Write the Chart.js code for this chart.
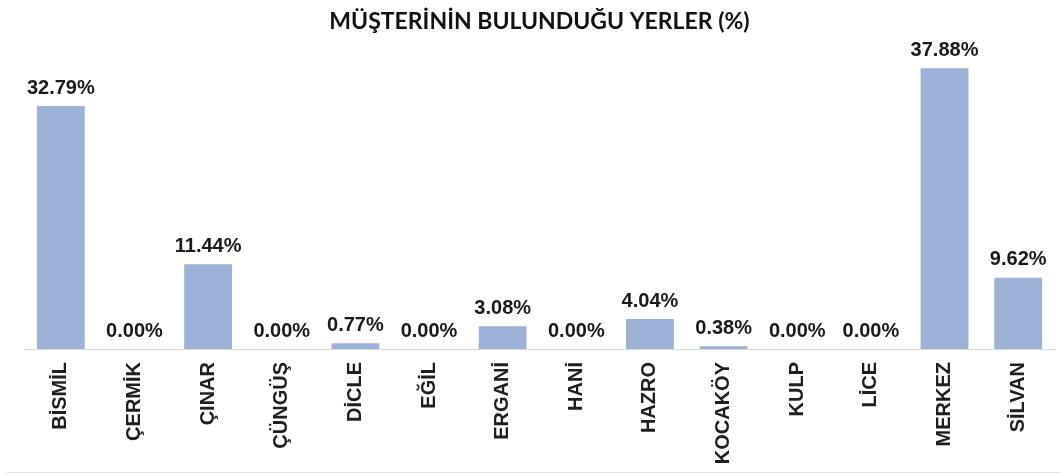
<!DOCTYPE html>
<html>
<head>
<meta charset="utf-8">
<script src="https://cdn.jsdelivr.net/npm/chart.js@4"></script>
<style>
  html, body { margin: 0; padding: 0; background: #fff; }
  #wrap { width: 1061px; height: 474px; }
</style>
</head>
<body>
<div id="wrap"><canvas id="canvas" width="1061" height="474"></canvas></div>
<script>
const districts = ['BİSMİL', 'ÇERMİK', 'ÇINAR', 'ÇÜNGÜŞ', 'DİCLE', 'EĞİL', 'ERGANİ', 'HANİ', 'HAZRO', 'KOCAKÖY', 'KULP', 'LİCE', 'MERKEZ', 'SİLVAN'];
const shares = [32.79, 0.00, 11.44, 0.00, 0.77, 0.00, 3.08, 0.00, 4.04, 0.38, 0.00, 0.00, 37.88, 9.62];

// value labels above each bar
const barLabels = {
    id: 'barLabels',
    afterDatasetsDraw(chart) {
        const c = chart.ctx;
        const meta = chart.getDatasetMeta(0);
        c.save();
        c.font = 'bold 20px "Liberation Sans", Arial, sans-serif';
        c.fillStyle = '#1a1a1a';
        c.textAlign = 'center';
        c.textBaseline = 'bottom';
        meta.data.forEach((bar, i) => {
            c.fillText(shares[i].toFixed(2) + '%', bar.x, bar.y - 8);
        });
        c.restore();
    }
};

// faint frame line at the bottom
const bottomLine = {
    id: 'bottomLine',
    afterDraw(chart) {
        const c = chart.ctx;
        c.save();
        c.strokeStyle = '#e3e3e3';
        c.lineWidth = 1;
        c.beginPath();
        c.moveTo(7, 472.5);
        c.lineTo(chart.width, 472.5);
        c.stroke();
        c.restore();
    }
};

const ctx = document.getElementById('canvas').getContext('2d');
const myChart = new Chart(ctx, {
    type: 'bar',
    data: {
        labels: districts,
        datasets: [{
            data: shares,
            backgroundColor: 'rgb(157, 178, 215)',
            barPercentage: 0.65,
            categoryPercentage: 1
        }]
    },
    plugins: [barLabels, bottomLine],
    options: {
        responsive: false,
        animation: false,
        layout: { padding: { left: 24, right: 6, top: 0, bottom: 0 } },
        plugins: {
            legend: { display: false },
            tooltip: { enabled: false },
            title: {
                display: true,
                text: 'MÜŞTERİNİN BULUNDUĞU YERLER (%)',
                color: '#111',
                font: { family: 'Lato, "Open Sans", sans-serif', size: 23, weight: 'bold', lineHeight: 1.2 },
                padding: { top: 8, bottom: 17 }
            }
        },
        scales: {
            y: {
                display: false,
                min: 0,
                max: 40
            },
            x: {
                grid: { display: false, drawTicks: false },
                border: { display: true, color: '#d9d9d9', width: 1 },
                ticks: {
                    minRotation: 90,
                    maxRotation: 90,
                    padding: 13,
                    color: '#1f1f1f',
                    font: { family: '"Liberation Sans", Arial, sans-serif', size: 20, weight: 'bold' }
                },
                afterFit(scale) { scale.height = 125; }
            }
        }
    }
});
</script>
</body>
</html>
